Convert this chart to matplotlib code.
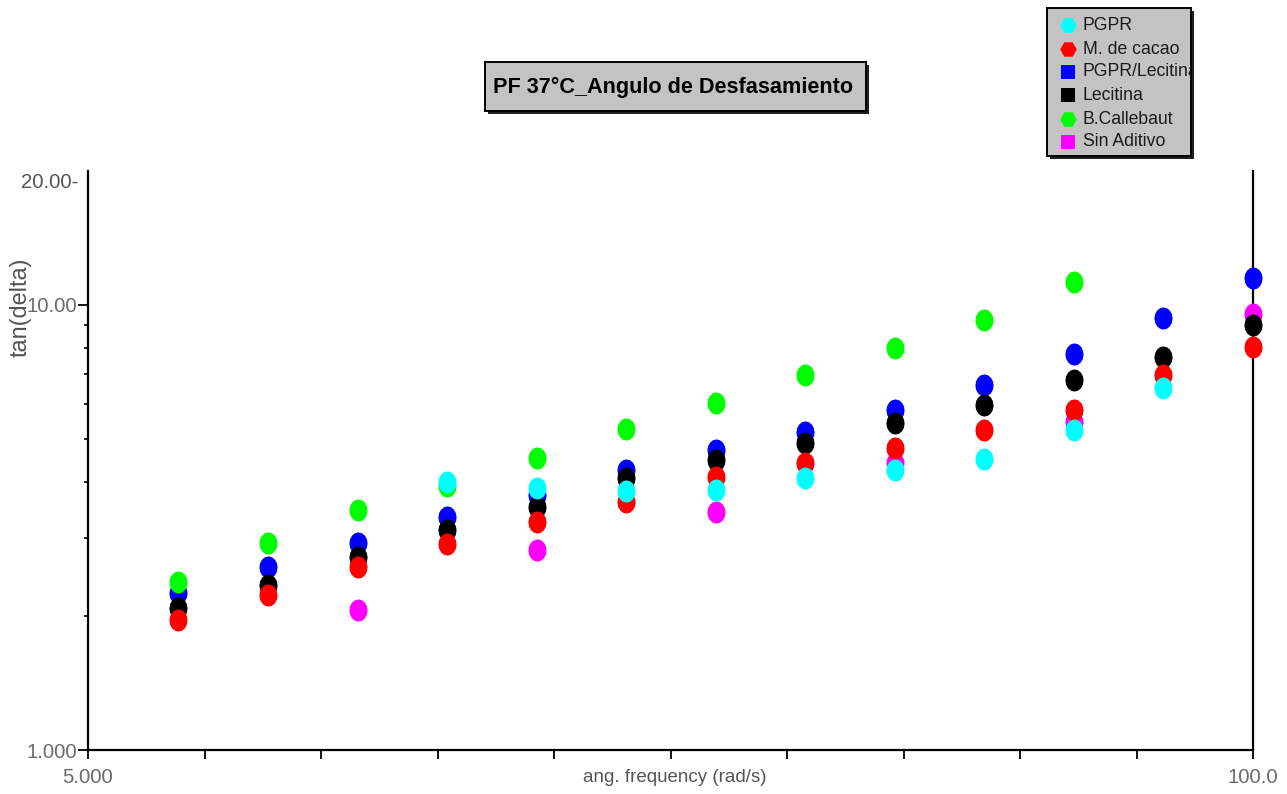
import numpy as np
import matplotlib
matplotlib.use("Agg")
import matplotlib.pyplot as plt
import matplotlib.font_manager as fm
from matplotlib.patches import Rectangle
from matplotlib.path import Path
from matplotlib.lines import Line2D
from matplotlib.ticker import FixedLocator, NullFormatter, NullLocator

# ---------------- data ----------------
freq = [6.310, 7.943, 10.00, 12.59, 15.85, 19.95, 25.12, 31.62, 39.81, 50.12, 63.10, 79.43, 100.0]
nan = np.nan
pgpr      = [nan, nan, nan, 4.01, 3.87, 3.81, 3.84, 4.08, 4.26, 4.51, 5.24, 6.50, nan]
m_cacao   = [1.96, 2.23, 2.58, 2.90, 3.26, 3.61, 4.11, 4.41, 4.76, 5.24, 5.81, 6.96, 8.06]
pgpr_lec  = [2.25, 2.58, 2.92, 3.34, 3.74, 4.26, 4.72, 5.19, 5.81, 6.61, 7.76, 9.35, 11.48]
lecitina  = [2.09, 2.35, 2.72, 3.12, 3.52, 4.08, 4.48, 4.89, 5.42, 5.96, 6.78, 7.65, 9.02]
callebaut = [2.39, 2.92, 3.46, 3.91, 4.52, 5.26, 6.01, 6.96, 7.99, 9.25, 11.27, nan, nan]
sin_adit  = [nan, nan, 2.06, nan, 2.81, nan, 3.43, nan, 4.41, nan, 5.46, nan, 9.55]

series_names = ["PGPR", "M. de cacao", "PGPR/Lecitina", "Lecitina", "B.Callebaut", "Sin Aditivo"]
series_vals = [pgpr, m_cacao, pgpr_lec, lecitina, callebaut, sin_adit]
series_colors = ["#00ffff", "#ff0000", "#0000ff", "#000000", "#00ff00", "#ff00ff"]
legend_markers = ["H", "H", "s", "s", "H", "s"]
draw_order = [5, 2, 3, 1, 4, 0]

title_text = "PF 37°C_Angulo de Desfasamiento"
xlabel_text = "ang. frequency (rad/s)"
ylabel_text = "tan(delta)"
x_tick_labels = ["5.000", "100.0"]
y_tick_labels = ["1.000", "10.00"]
y_top_label = "20.00-"

# ---------------- fonts ----------------
names = {f.name for f in fm.fontManager.ttflist}
FAM = "Liberation Sans Narrow" if "Liberation Sans Narrow" in names else "Liberation Sans"
plt.rcParams["font.family"] = [FAM, "DejaVu Sans"]

W, H = 1287, 794
fig = plt.figure(figsize=(W / 100, H / 100), dpi=100)
fig.patch.set_facecolor("white")
renderer = fig.canvas.get_renderer()


def fx(x):
    return x / W


def fy(y):
    return 1 - y / H


def fit_size(s, target_px, weight="normal", rotation=0, measure="width"):
    t = fig.text(0, 0, s, fontsize=10, fontweight=weight, rotation=rotation)
    bb = t.get_window_extent(renderer)
    t.remove()
    v = bb.width if measure == "width" else bb.height
    return 10 * target_px / v


# ---------------- axes ----------------
ax = fig.add_axes([fx(88), fy(750), fx(1253) - fx(88), fy(171) - fy(750)])
ax.set_xscale("log")
ax.set_yscale("log")
ax.set_xlim(5, 100)
ax.set_ylim(1, 20)
ax.spines["top"].set_visible(False)
for s in ["left", "bottom", "right"]:
    ax.spines[s].set_linewidth(1.6)
    ax.spines[s].set_color("black")

# ellipse-shaped marker (taller than wide)
th = np.linspace(0, 2 * np.pi, 17)
ell = Path(np.column_stack([0.41 * np.cos(th), 0.5 * np.sin(th)]), closed=True)

for k, i in enumerate(draw_order):
    ax.plot(freq, series_vals[i], linestyle="none", marker=ell, markersize=16,
            markerfacecolor=series_colors[i], markeredgewidth=0, zorder=3 + k,
            clip_on=False)

tick_size = fit_size("5.000", 51)
xt = [5 * 20 ** (j / 10) for j in range(11)]
ax.xaxis.set_major_locator(FixedLocator(xt))
ax.xaxis.set_minor_locator(NullLocator())
ax.set_xticklabels([x_tick_labels[0]] + [""] * 9 + [x_tick_labels[1]])
ax.tick_params(axis="x", which="major", direction="out", length=6.5, width=1.3,
               pad=6.5, labelsize=tick_size, labelcolor="#6a6a6a", color="black")

ax.yaxis.set_major_locator(FixedLocator([1, 10]))
ax.set_yticklabels(y_tick_labels)
ax.yaxis.set_minor_locator(FixedLocator([2, 3, 4, 5, 6, 7, 8, 9]))
ax.yaxis.set_minor_formatter(NullFormatter())
ax.tick_params(axis="y", which="major", direction="out", length=7, width=1.3,
               pad=0.5, labelsize=tick_size, labelcolor="#6a6a6a", color="black")
ax.tick_params(axis="y", which="minor", direction="out", length=3, width=1.2, color="black")

fig.text(fx(78), fy(183), y_top_label, ha="right", va="center",
         fontsize=tick_size, color="#555555")

# axis labels
fig.text(fx(675), fy(777), xlabel_text, ha="center", va="center",
         fontsize=fit_size(xlabel_text, 185), color="#555555")
fig.text(fx(21), fy(307), ylabel_text, ha="center", va="center", rotation=90,
         fontsize=fit_size(ylabel_text, 100, rotation=90, measure="height"), color="#555555")

# ---------------- title box ----------------
def box(x0, y0, x1, y1, shadow=3):
    fig.patches.append(Rectangle((fx(x0 + shadow), fy(y1 + shadow)), fx(x1) - fx(x0),
                                 fy(y0) - fy(y1), transform=fig.transFigure,
                                 facecolor="#202020", edgecolor="none", zorder=1))
    r = Rectangle((fx(x0), fy(y1)), fx(x1) - fx(x0), fy(y0) - fy(y1),
                  transform=fig.transFigure, facecolor="#c3c3c3",
                  edgecolor="black", linewidth=1.4, zorder=2)
    fig.patches.append(r)
    return r

box(485, 62, 866, 111)
fig.text(fx(673), fy(87), title_text, ha="center", va="center",
         fontsize=fit_size(title_text, 360, weight="bold"), fontweight="bold",
         color="black", zorder=3)

# ---------------- legend ----------------
leg = box(1047, 8, 1191, 156)
leg_y = [25, 49, 72, 95, 119, 142]
leg_size = fit_size("M. de cacao", 96)
for i in range(6):
    ms = 12 if legend_markers[i] == "H" else 9.5
    fig.lines.append(Line2D([fx(1068)], [fy(leg_y[i])], transform=fig.transFigure,
                            marker=legend_markers[i], markersize=ms, linestyle="none",
                            markerfacecolor=series_colors[i], markeredgewidth=0, zorder=3))
    t = fig.text(fx(1083), fy(leg_y[i]), series_names[i], ha="left", va="center",
                 fontsize=leg_size, color="#1a1a1a", zorder=3)
    t.set_clip_path(leg)

fig.savefig("out.png", dpi=100)
